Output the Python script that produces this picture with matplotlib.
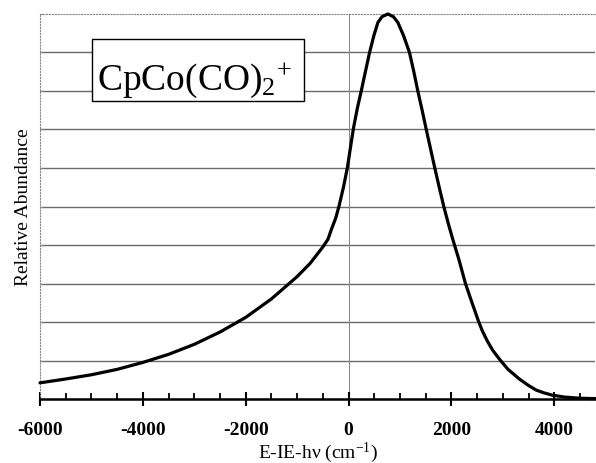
import matplotlib
matplotlib.use("Agg")
import matplotlib.pyplot as plt
from matplotlib.patches import Rectangle
from matplotlib.ticker import MultipleLocator, NullFormatter

plt.rcParams["font.family"] = ["Liberation Serif", "DejaVu Serif"]
plt.rcParams["mathtext.fontset"] = "custom"
plt.rcParams["mathtext.rm"] = "Liberation Serif"
plt.rcParams["mathtext.it"] = "Liberation Serif:italic"
plt.rcParams["mathtext.bf"] = "Liberation Serif:bold"
plt.rcParams["axes.unicode_minus"] = False

# 读图得到的数据点 (E-IE-hv, 相对丰度)
energy = [-6000, -5500, -5000, -4500, -4000, -3500, -3000, -2500, -2000, -1500,
          -1000, -750, -500, -400, -336, -250, -188, -100, -25, 33, 97, 170, 246,
          330, 408, 492, 570, 650, 764, 870, 958, 1068, 1184, 1265, 1346, 1430,
          1510, 1593, 1676, 1762, 1851, 1940, 2025, 2150, 2272, 2400, 2518, 2600,
          2700, 2800, 2930, 3100, 3320, 3500, 3650, 3800, 3960, 4200, 4500, 4800]
abundance = [0.042, 0.052, 0.063, 0.077, 0.095, 0.116, 0.142, 0.174, 0.212, 0.26,
             0.318, 0.352, 0.395, 0.415, 0.44, 0.47, 0.50, 0.55, 0.60, 0.65, 0.705,
             0.755, 0.80, 0.852, 0.90, 0.944, 0.978, 0.993, 1.0, 0.993, 0.978,
             0.944, 0.90, 0.852, 0.80, 0.75, 0.70, 0.65, 0.60, 0.55, 0.50, 0.455,
             0.415, 0.36, 0.30, 0.25, 0.205, 0.177, 0.15, 0.127, 0.104, 0.077,
             0.052, 0.035, 0.023, 0.016, 0.010, 0.005, 0.002, 0.001]

title_text = r"CpCo(CO)$_{2}{}^{+}$"
xlabel_text = r"E-IE-hν (cm$^{-1}$)"
ylabel_text = "Relative Abundance"

fig = plt.figure(figsize=(5.96, 4.64), dpi=100)
ax = fig.add_axes([0.0671, 0.1379, 0.932, 0.8298])

# 水平网格线和 x=0 竖线
for y in [0.1 * i for i in range(1, 10)]:
    ax.axhline(y, color="#6a6a6a", lw=1.0, zorder=1)
ax.axvline(0, color="#8a8a8a", lw=0.8, zorder=1)

ax.plot(energy, abundance, color="black", lw=2.3, zorder=5, clip_on=False,
        solid_joinstyle="round", solid_capstyle="round")

ax.set_xlim(-6000, 4800)
ax.set_ylim(0, 1)

# 坐标轴样式
for side in ["top", "left"]:
    ax.spines[side].set_linestyle(":")
    ax.spines[side].set_color("#888888")
    ax.spines[side].set_linewidth(0.8)
ax.spines["right"].set_visible(False)
ax.spines["bottom"].set_linewidth(1.8)
ax.spines["bottom"].set_zorder(6)

ax.xaxis.set_major_locator(MultipleLocator(2000))
ax.xaxis.set_minor_locator(MultipleLocator(500))
ax.tick_params(axis="x", which="major", direction="inout", length=10, width=1.5,
               labelsize=14, pad=11)
ax.tick_params(axis="x", which="minor", direction="in", length=4, width=1.3)
for lab in ax.get_xticklabels():
    lab.set_fontweight("bold")
ax.yaxis.set_major_locator(MultipleLocator(0.1))
ax.yaxis.set_major_formatter(NullFormatter())
ax.tick_params(axis="y", direction="in", length=2, width=0.8, color="#888888")

ax.set_xlabel(xlabel_text, fontsize=14, labelpad=1)
ax.set_ylabel(ylabel_text, fontsize=14, labelpad=2)

# 标题框
ax.add_patch(Rectangle((0.093, 0.775), 0.382, 0.16, transform=ax.transAxes,
                       facecolor="white", edgecolor="black", lw=1.0, zorder=3))
ax.text(0.103, 0.805, title_text, transform=ax.transAxes, fontsize=27,
        ha="left", va="baseline", zorder=4)

fig.savefig("out.png", dpi=100)
